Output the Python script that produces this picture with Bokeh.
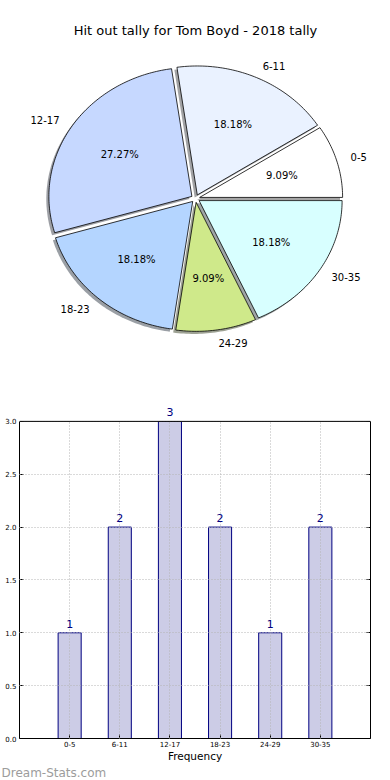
import numpy as np
from bokeh.plotting import figure
from bokeh.models import (Range1d, Label, LabelSet, ColumnDataSource, FixedTicker,
                          PrintfTickFormatter, LinearAxis, Span, BoxAnnotation, Title)
from bokeh.layouts import column
from bokeh.embed import file_html
from bokeh.resources import INLINE
from bokeh.core.properties import value

# ---------------- data ----------------
TITLE = "Hit out tally for Tom Boyd - 2018 tally"
categories = ["0-5", "6-11", "12-17", "18-23", "24-29", "30-35"]
counts = [1, 2, 3, 2, 1, 2]
slice_colors = ["#ffffff", "#eaf2ff", "#c6d8ff", "#b4d5ff", "#cfe98a", "#d8ffff"]
y_ticks = [0.0, 0.5, 1.0, 1.5, 2.0, 2.5, 3.0]
x_axis_label = "Frequency"
watermark = "Dream-Stats.com"

# ---------------- styling / layout ----------------
FONT = "DejaVu Sans"
W = 390
PIE_H = 352
BAR_H = 428
LEFT, RIGHT = 19, 370          # frame x extent (shared by both figures in the column)
RX, RY = 143.0, 129.0          # px per unit radius (matplotlib non-equal aspect)
CX, CY = 195.0, 198.0          # pie centre in window px
EXPLODE = 0.03
SHADOW_DX, SHADOW_DY = -0.018, -0.02

pie = figure(width=W, height=PIE_H, output_backend="svg", toolbar_location=None,
             x_range=Range1d(-(CX - LEFT) / RX, (RIGHT - CX) / RX),
             y_range=Range1d(-(PIE_H - CY) / RY, CY / RY),
             x_axis_location=None, y_axis_location=None,
             min_border_left=LEFT, min_border_right=W - RIGHT,
             min_border_top=0, min_border_bottom=0)
pie.grid.visible = False
pie.outline_line_color = None
pie.background_fill_color = "white"
pie.border_fill_color = "white"

total = float(sum(counts))
fracs = np.array(counts) / total
ends = np.cumsum(fracs) * 2 * np.pi
starts = ends - fracs * 2 * np.pi
mids = (starts + ends) / 2


def shade(hexcol):
    h = hexcol.lstrip("#")
    r, g, b = (int(h[i:i + 2], 16) for i in (0, 2, 4))
    return "#%02x%02x%02x" % (int(r * 0.3), int(g * 0.3), int(b * 0.3))


xs, ys, sxs, sys_ = [], [], [], []
lab_x, lab_y, lab_align, pct_x, pct_y, pct_txt = [], [], [], [], [], []
for a0, a1, m, f in zip(starts, ends, mids, fracs):
    ox, oy = EXPLODE * np.cos(m), EXPLODE * np.sin(m)
    t = np.linspace(a0, a1, max(8, int(np.degrees(a1 - a0))))
    px = np.concatenate([[ox], ox + np.cos(t), [ox]])
    py = np.concatenate([[oy], oy + np.sin(t), [oy]])
    xs.append(px.tolist())
    ys.append(py.tolist())
    sxs.append((px + SHADOW_DX).tolist())
    sys_.append((py + SHADOW_DY).tolist())
    lx = ox + 1.1 * np.cos(m)
    lab_x.append(lx)
    lab_y.append(oy + 1.1 * np.sin(m))
    lab_align.append("left" if lx > 0 else "right")
    pct_x.append(ox + 0.6 * np.cos(m))
    pct_y.append(oy + 0.6 * np.sin(m))
    pct_txt.append("%.2f%%" % (f * 100))

pie.patches(sxs, sys_, fill_color=[shade(c) for c in slice_colors], fill_alpha=0.5,
            line_color=None)
pie.patches(xs, ys, fill_color=slice_colors, line_color="black", line_width=0.8)

lab_src = ColumnDataSource(dict(x=lab_x, y=lab_y, text=categories, align=lab_align))
pie.text(x="x", y="y", text="text", text_align="align", source=lab_src,
         text_baseline="middle", text_font=value(FONT), text_font_size="10px",
         text_color="black")
pct_src = ColumnDataSource(dict(x=pct_x, y=pct_y, text=pct_txt))
pie.text(x="x", y="y", text="text", source=pct_src, text_align="center",
         text_baseline="middle", text_font=value(FONT), text_font_size="10px",
         text_color="black")

pie.add_layout(Label(x=CX - LEFT, y=PIE_H - 30, x_units="screen", y_units="screen",
                     text=TITLE, text_align="center", text_baseline="middle",
                     text_font=FONT, text_font_size="13px", text_color="black"))

# ---------------- bar chart ----------------
# box y 421..740 in window px; frame extended up to 400 so value labels fit
FR_TOP, BOX_TOP, BOX_BOT = 400.0, 421.0, 740.0
y_max = max(counts)
y_end = y_max * (BOX_BOT - FR_TOP) / (BOX_BOT - BOX_TOP)

xpos = list(range(len(categories)))
bar = figure(width=W, height=BAR_H, output_backend="svg", toolbar_location=None,
             x_range=Range1d(-1, len(categories)), y_range=Range1d(0, y_end),
             min_border_left=LEFT, min_border_right=W - RIGHT,
             min_border_top=int(FR_TOP - PIE_H),
             min_border_bottom=int(PIE_H + BAR_H - BOX_BOT))
bar.background_fill_color = "white"
bar.border_fill_color = "white"
bar.outline_line_color = None

bar.vbar(x=xpos, top=counts, width=0.46, fill_color="#ccccE6",
         line_color="#000080", line_width=1)

bar.xaxis.ticker = FixedTicker(ticks=xpos)
bar.xaxis.major_label_overrides = {i: c for i, c in enumerate(categories)}
bar.yaxis.ticker = FixedTicker(ticks=y_ticks)
bar.yaxis.formatter = PrintfTickFormatter(format="%.1f")
bar.yaxis.bounds = (0, y_max)

right_ax = LinearAxis(ticker=FixedTicker(ticks=y_ticks), bounds=(0, y_max),
                      major_label_text_color=None)
bar.add_layout(right_ax, "right")

for ax in bar.axis:
    ax.major_tick_in = 4
    ax.major_tick_out = 0
    ax.minor_tick_line_color = None
    ax.major_tick_line_color = "black"
    ax.axis_line_color = "black"
    ax.axis_line_width = 1
    ax.major_label_text_font = FONT
    ax.major_label_text_font_size = "7px"
    ax.major_label_standoff = 3
bar.yaxis[0].major_label_text_color = "black"
bar.xaxis.major_label_text_color = "black"
bar.xaxis.major_label_standoff = 2
bar.xaxis.axis_label = x_axis_label
bar.xaxis.axis_label_text_font = FONT
bar.xaxis.axis_label_text_font_size = "10.5px"
bar.xaxis.axis_label_text_font_style = "normal"
bar.xaxis.axis_label_text_color = "black"
bar.xaxis.axis_label_standoff = 0

bar.grid.grid_line_color = "#b4b4b4"
bar.grid.grid_line_dash = "1 2"
bar.grid.grid_line_width = 1
bar.grid.level = "guide"

# blank out the area above the box, then draw the box top and value labels
bar.add_layout(BoxAnnotation(bottom=y_max, fill_color="white", fill_alpha=1.0,
                             line_color=None))
bar.add_layout(Span(location=y_max, dimension="width", line_color="black",
                    line_width=1))
val_src = ColumnDataSource(dict(x=xpos, y=counts, text=[str(c) for c in counts]))
bar.add_layout(LabelSet(x="x", y="y", text="text", source=val_src, text_align="center",
                        text_baseline="alphabetic", y_offset=5, text_font=value(FONT),
                        text_font_size="11px", text_color="#000080"))

# watermark, as a title in the panel below the x axis
bar.add_layout(Title(text=watermark, align="left", offset=1 - LEFT, standoff=0,
                     vertical_align="middle", text_font=FONT, text_font_size="12px",
                     text_font_style="normal", text_color="#9c9c9c"), "below")

layout = column(pie, bar)
open("out.html", "w").write(file_html(layout, INLINE))
